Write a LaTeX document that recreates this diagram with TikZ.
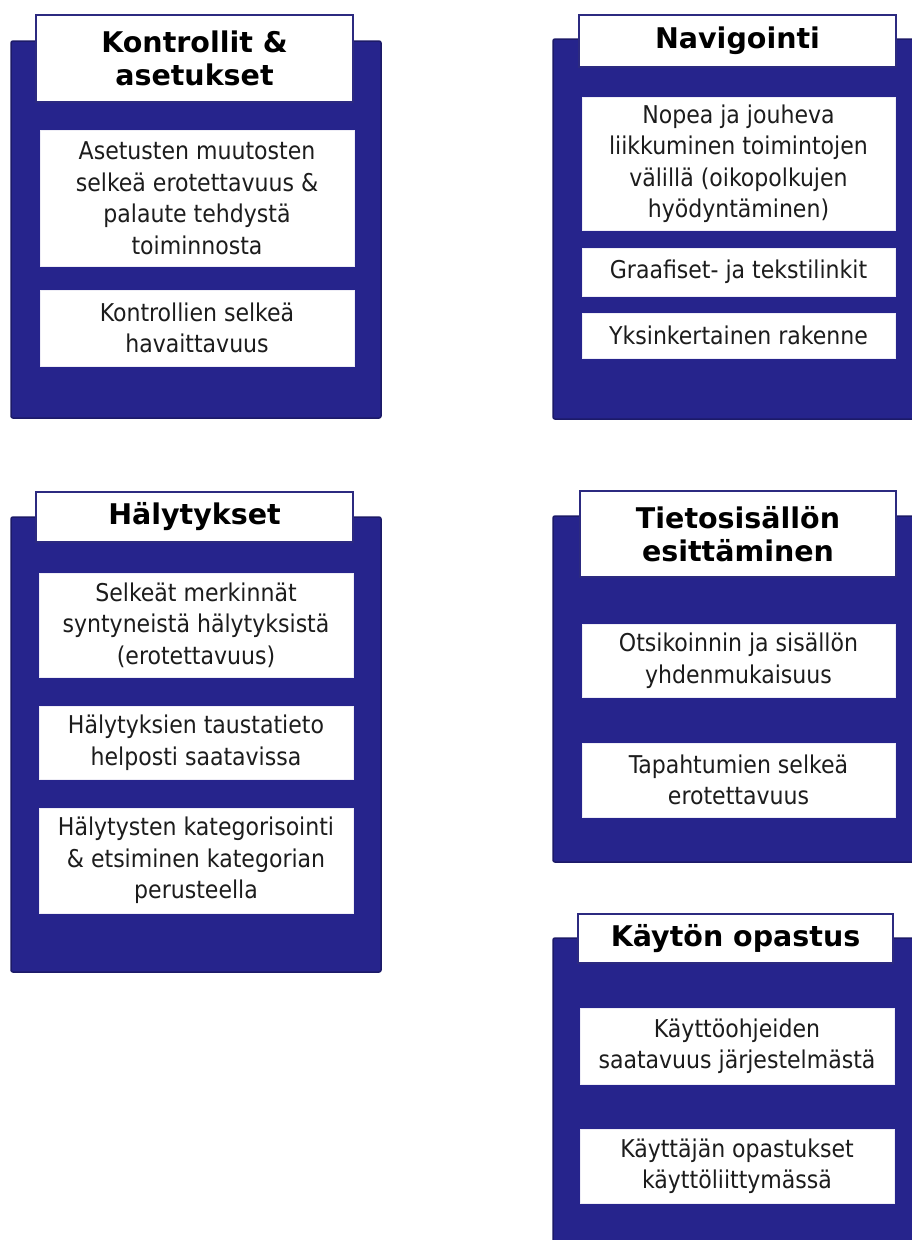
\documentclass[tikz,border=0pt]{standalone}
\usepackage{fontspec}
\setmainfont{DejaVu Sans Condensed}
\newfontfamily\headfont{DejaVu Sans}
\definecolor{navy}{RGB}{38,36,140}
\definecolor{navyedge}{RGB}{28,26,104}
\definecolor{navyline}{RGB}{44,42,128}
\definecolor{textgray}{RGB}{28,28,28}
\tikzset{
  panelbox/.style={draw=navyedge, fill=navy, line width=1.5pt, rounded corners=2pt, inner sep=0pt},
  titlebox/.style={draw=navyline, fill=white, line width=1.2pt, inner sep=0pt, align=center,
    font=\headfont\fontsize{28.5}{33.5}\selectfont\bfseries, text=black},
  itembox/.style={draw=white!92!navy, fill=white, line width=0.4pt, inner sep=0pt, align=center,
    font=\fontsize{24.5}{31.5}\selectfont, text=textgray},
}
% box given by its corners: style, name, x0, y0, x1, y1, text
\newcommand\placebox[7]{%
  \node[#1, minimum width={(#5-#3)*1pt}, minimum height={(#6-#4)*1pt}]
    (#2) at ({(#3+#5)/2},{(#4+#6)/2}) {#7};}
\begin{document}
\begin{tikzpicture}[x=1pt, y=-1pt]
\useasboundingbox (0,0) rectangle (912,1240);
\clip (0,0) rectangle (912,1240);
\fill[white] (0,0) rectangle (912,1240);

% Kontrollit & asetukset
\placebox{panelbox}{p1}{11}{41}{381}{418}{}
\placebox{titlebox}{t1}{36}{15}{353}{102}{Kontrollit \&\\asetukset}
\placebox{itembox}{a1}{40}{130}{354}{266}{Asetusten muutosten\\selkeä erotettavuus \&\\palaute tehdystä\\toiminnosta}
\placebox{itembox}{a2}{40}{290}{354}{366}{Kontrollien selkeä\\havaittavuus}

% Navigointi
\placebox{panelbox}{p2}{553}{39}{923}{419}{}
\placebox{titlebox}{t2}{579}{15}{896}{67}{Navigointi}
\placebox{itembox}{b1}{582}{97}{895}{230}{Nopea ja jouheva\\liikkuminen toimintojen\\välillä (oikopolkujen\\hyödyntäminen)}
\placebox{itembox}{b2}{582}{248}{895}{296}{Graafiset- ja tekstilinkit}
\placebox{itembox}{b3}{582}{313}{895}{358}{Yksinkertainen rakenne}

% Hälytykset
\placebox{panelbox}{p3}{11}{517}{381}{972}{}
\placebox{titlebox}{t3}{36}{492}{353}{542}{Hälytykset}
\placebox{itembox}{c1}{39}{573}{353}{677}{Selkeät merkinnät\\syntyneistä hälytyksistä\\(erotettavuus)}
\placebox{itembox}{c2}{39}{706}{353}{779}{Hälytyksien taustatieto\\helposti saatavissa}
\placebox{itembox}{c3}{39}{808}{353}{913}{Hälytysten kategorisointi\\\& etsiminen kategorian\\perusteella}

% Tietosisällön esittäminen
\placebox{panelbox}{p4}{553}{516}{923}{862}{}
\placebox{titlebox}{t4}{580}{491}{896}{577}{Tietosisällön\\esittäminen}
\placebox{itembox}{d1}{582}{624}{895}{697}{Otsikoinnin ja sisällön\\yhdenmukaisuus}
\placebox{itembox}{d2}{582}{743}{895}{817}{Tapahtumien selkeä\\erotettavuus}

% Käytön opastus
\placebox{panelbox}{p5}{553}{938}{923}{1262}{}
\placebox{titlebox}{t5}{578}{914}{893}{963}{Käytön opastus}
\placebox{itembox}{e1}{580}{1008}{894}{1084}{Käyttöohjeiden\\saatavuus järjestelmästä}
\placebox{itembox}{e2}{580}{1129}{894}{1203}{Käyttäjän opastukset\\käyttöliittymässä}
\end{tikzpicture}
\end{document}
